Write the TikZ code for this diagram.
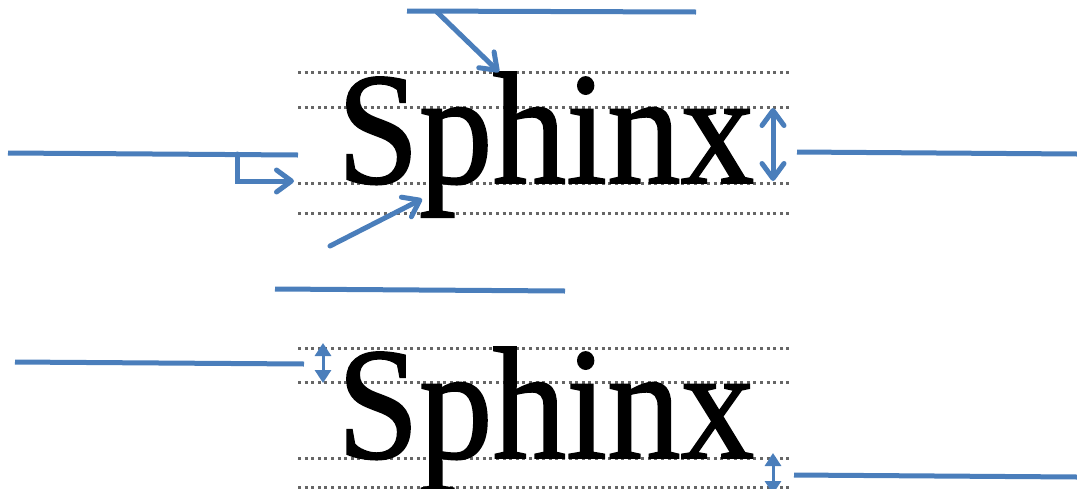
\documentclass[tikz,border=0pt]{standalone}
\usepackage{fontspec}
\setmainfont{Liberation Serif}
\usepackage{xcolor}
\usetikzlibrary{arrows.meta}
\definecolor{lineblue}{RGB}{74,126,187}

\begin{document}
\begin{tikzpicture}[x=1pt, y=-1pt,
  blank/.style={draw=lineblue, line width=5pt},
  pointer/.style={blank, line cap=round, -{Straight Barb[round,length=15pt,width=22pt]}},
  span/.style={blank, {Straight Barb[round,length=15pt,width=22pt]}-{Straight Barb[round,length=15pt,width=22pt]}},
  tinyspan/.style={draw=lineblue, line width=3pt, {Triangle[length=13pt,width=16pt]}-{Triangle[length=13pt,width=16pt]}},
  guide/.style={draw=gray!80!black, line width=3pt, dash pattern=on 3pt off 3.6pt}]
\clip (0,0) rectangle (1077,488);
% guide lines
\foreach \y in {72,107,183,213,348,382,458,487}
  \draw [guide] (298,\y) -- (792,\y);
\node (word0) [anchor=base west, inner sep=0] at (337,183) {\scalebox{0.92}[1]{\fontsize{160}{160}\selectfont\addfontfeature{FakeBold=1.2}Sphinx}};
\node (word1) [anchor=base west, inner sep=0] at (337,458) {\scalebox{0.92}[1]{\fontsize{160}{160}\selectfont\addfontfeature{FakeBold=1.2}Sphinx}};
% blank label lines
\coordinate (top0) at (407,11);
\coordinate (top1) at (696,12);
\coordinate (left0) at (8,153);
\coordinate (left1) at (298,155);
\coordinate (right0) at (797,152);
\coordinate (right1) at (1077,154);
\coordinate (mid0) at (275,289);
\coordinate (mid1) at (565,291);
\coordinate (low0) at (15,362);
\coordinate (low1) at (304,364);
\coordinate (end0) at (794,475);
\coordinate (end1) at (1077,477);
\foreach \a/\b in {top0/top1, left0/left1, right0/right1, mid0/mid1, low0/low1, end0/end1}
  \draw [blank] (\a) -- (\b);
% arrows
\coordinate (asc) at (499,72);
\coordinate (from0) at (437,12);
\draw [pointer] (from0) -- (asc);
\coordinate (corner) at (237,181);
\coordinate (base) at (294,181);
\draw [pointer] (237,154) |- (base);
\coordinate (from1) at (330,246);
\coordinate (desc) at (422,199);
\draw [pointer] (from1) -- (desc);
\coordinate (xtop) at (773,108);
\coordinate (xbot) at (773,181);
\draw [span] (xtop) -- (xbot);
\coordinate (gap0) at (323,343);
\coordinate (gap1) at (323,383);
\draw [tinyspan] (gap0) -- (gap1);
\coordinate (gap2) at (773,453);
\coordinate (gap3) at (773,494);
\draw [tinyspan] (gap2) -- (gap3);
\end{tikzpicture}
\end{document}
